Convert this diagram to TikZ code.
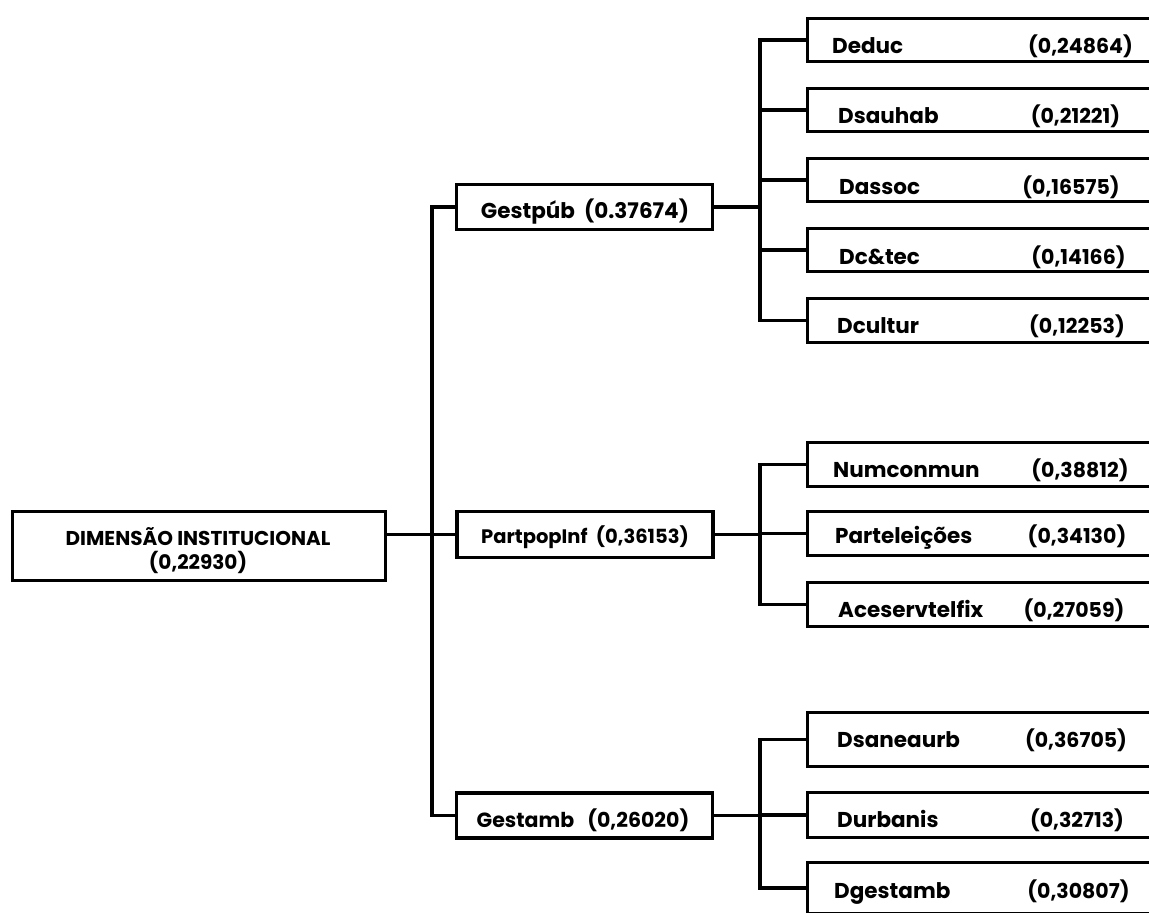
\documentclass[tikz,border=0pt]{standalone}
\usepackage{fontspec}
\setmainfont{Poppins}
\begin{document}
\begin{tikzpicture}[x=1pt,y=-1pt,
  box/.style={draw=black, line width=3.2pt, fill=white, inner sep=0pt},
  cbox/.style={box, minimum width=351pt, minimum height=43pt},
  mbox/.style={box, minimum width=256pt, minimum height=45pt},
  conn/.style={draw=black, line width=3.2pt},
  lbl/.style={inner sep=0pt, anchor=base west, font=\fontsize{21.5}{24}\selectfont\bfseries},
  val/.style={inner sep=0pt, anchor=base, font=\fontsize{20.5}{24}\selectfont\bfseries},
  mlbl/.style={inner sep=0pt, anchor=base, font=\fontsize{21}{24}\selectfont\bfseries}]
\useasboundingbox (0,0) rectangle (1149,913);
\begin{scope}
\clip (0,0) rectangle (1149,913);
% root
\node[box, minimum width=373pt, minimum height=69pt] (root) at (199,546) {};
\node[inner sep=0pt, anchor=base, font=\fontsize{20}{24}\selectfont\bfseries] (rootA) at (198,545) {DIMENSÃO INSTITUCIONAL};
\node[inner sep=0pt, anchor=base, font=\fontsize{20}{24}\selectfont\bfseries] (rootB) at (198,569) {(0,22930)};
% middle tier
\node[mbox] (gp) at (584.5,207) {};
\node[mlbl, font=\fontsize{21.5}{24}\selectfont\bfseries] (gpT) at (585,218) {Gestpúb\ \ (0.37674)};
\node[mbox, minimum height=46pt] (pp) at (585,534.5) {};
\node[mlbl, font=\fontsize{19.5}{24}\selectfont\bfseries] (ppT) at (585,543) {PartpopInf\ \ (0,36153)};
\node[mbox] (ga) at (584.5,815.5) {};
\node[mlbl, font=\fontsize{20.5}{24}\selectfont\bfseries] (gaT) at (583,827) {Gestamb\ \ \ (0,26020)};
% children of Gestpub
\node[cbox] (c1) at (983,40) {};
\node[lbl] (c1a) at (832,53) {Deduc};
\node[val] (c1b) at (1080.5,53) {(0,24864)};
\node[cbox] (c2) at (983,110) {};
\node[lbl] (c2a) at (838,123) {Dsauhab};
\node[val] (c2b) at (1075.5,123) {(0,21221)};
\node[cbox] (c3) at (983,180) {};
\node[lbl] (c3a) at (839,194) {Dassoc};
\node[val] (c3b) at (1071,194) {(0,16575)};
\node[cbox] (c4) at (983,250) {};
\node[lbl] (c4a) at (839,264) {Dc\&tec};
\node[val] (c4b) at (1078.5,264) {(0,14166)};
\node[cbox, minimum height=44pt] (c5) at (983,320.5) {};
\node[lbl] (c5a) at (837,333) {Dcultur};
\node[val] (c5b) at (1077,333) {(0,12253)};
% children of PartpopInf
\node[cbox, minimum height=44pt] (d1) at (983,464.5) {};
\node[lbl] (d1a) at (833,477) {Numconmun};
\node[val] (d1b) at (1080,477) {(0,38812)};
\node[cbox, minimum height=44pt] (d2) at (983,533.5) {};
\node[lbl] (d2a) at (835,543) {Parteleições};
\node[val] (d2b) at (1077,543) {(0,34130)};
\node[cbox, minimum height=44pt] (d3) at (983,604.5) {};
\node[lbl] (d3a) at (838,617) {Aceservtelfix};
\node[val] (d3b) at (1074,617) {(0,27059)};
% children of Gestamb
\node[cbox, minimum height=54pt] (e1) at (983,739.5) {};
\node[lbl] (e1a) at (837,747) {Dsaneaurb};
\node[val] (e1b) at (1076,747) {(0,36705)};
\node[cbox, minimum height=45pt] (e2) at (983,815) {};
\node[lbl] (e2a) at (837,827) {Durbanis};
\node[val] (e2b) at (1077,827) {(0,32713)};
\node[cbox, minimum height=51pt] (e3) at (983,888) {};
\node[lbl] (e3a) at (834,898) {Dgestamb};
\node[val] (e3b) at (1078.5,898) {(0,30807)};
% connector coordinates
\coordinate (trunk) at (432,0);
\coordinate (bus) at (760,0);
% connectors: root to middle tier
\draw[conn] (pp.west -| root.east) -- (pp.west);
\draw[conn] (gp.west) -- (gp.west -| trunk) -- (ga.west -| trunk) -- (ga.west);
% Gestpub group
\draw[conn] (gp.east) -- (gp.east -| bus);
\draw[conn] (c1.west) -- (c1.west -| bus) -- (c5.west -| bus) -- (c5.west);
\draw[conn] (c2.west) -- (c2.west -| bus);
\draw[conn] (c3.west) -- (c3.west -| bus);
\draw[conn] (c4.west) -- (c4.west -| bus);
% PartpopInf group
\draw[conn] (pp.east) -- (pp.east -| bus);
\draw[conn] (d1.west) -- (d1.west -| bus) -- (d3.west -| bus) -- (d3.west);
\draw[conn] (d2.west) -- (d2.west -| bus);
% Gestamb group
\draw[conn] (ga.east) -- (ga.east -| bus);
\draw[conn] (e1.west) -- (e1.west -| bus) -- (e3.west -| bus) -- (e3.west);
\draw[conn] (e2.west) -- (e2.west -| bus);
\end{scope}
\end{tikzpicture}
\end{document}
